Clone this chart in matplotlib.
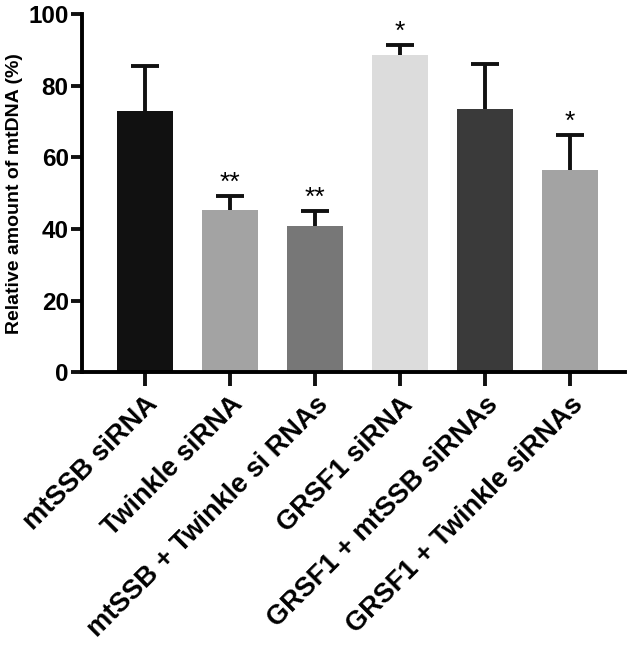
import matplotlib
matplotlib.use("Agg")
import matplotlib.pyplot as plt

# values
groups = ["mtSSB siRNA", "Twinkle siRNA", "mtSSB + Twinkle si RNAs",
          "GRSF1 siRNA", "GRSF1 + mtSSB siRNAs", "GRSF1 + Twinkle siRNAs"]
means = [73.0, 45.3, 40.7, 88.7, 73.5, 56.6]
errors = [12.6, 3.9, 4.3, 2.6, 12.7, 9.6]
stars = ["", "**", "**", "*", "", "*"]
colors = ["#111111", "#a3a3a3", "#777777", "#dcdcdc", "#3a3a3a", "#a3a3a3"]

plt.rcParams['font.family'] = ['Liberation Sans', 'DejaVu Sans']
plt.rcParams['font.weight'] = 'bold'

fig = plt.figure(figsize=(6.3, 6.46), dpi=100)
ax = fig.add_axes([0.130, 0.424, 0.862, 0.554])

x = list(range(len(groups)))
ax.bar(x, means, width=0.66, color=colors, zorder=2)
# upper error bars only
_, caps, _ = ax.errorbar(x, means, yerr=[[0] * len(means), errors], fmt='none',
                         ecolor='#111111', elinewidth=2.8, capsize=10,
                         capthick=2.8, zorder=3)
caps[0].set_visible(False)

# significance marks above the error bars
for xi, m, e, s in zip(x, means, errors, stars):
    if s:
        ax.text(xi, m + e + 0.3, s, ha='center', va='bottom',
                fontsize=19, fontweight='normal')

ax.set_xlim(-0.74, 5.65)
ax.set_ylim(0, 100)
ax.set_yticks([0, 20, 40, 60, 80, 100])
ax.set_xticks(x)
ax.set_xticklabels(groups, rotation=45, ha='right', rotation_mode='anchor',
                   fontsize=19.5, fontweight='bold')
ax.set_ylabel("Relative amount of mtDNA (%)", fontsize=14, fontweight='bold')

for lbl in ax.get_yticklabels():
    lbl.set_fontsize(17.5)
    lbl.set_fontweight('bold')

ax.spines['top'].set_visible(False)
ax.spines['right'].set_visible(False)
ax.spines['left'].set_linewidth(2.8)
ax.spines['bottom'].set_linewidth(2.8)
ax.tick_params(axis='both', width=2.8, length=8, color='#111111')
ax.tick_params(axis='y', pad=1.5)
ax.tick_params(axis='x', length=10, pad=4)

fig.savefig("out.png", dpi=100)
